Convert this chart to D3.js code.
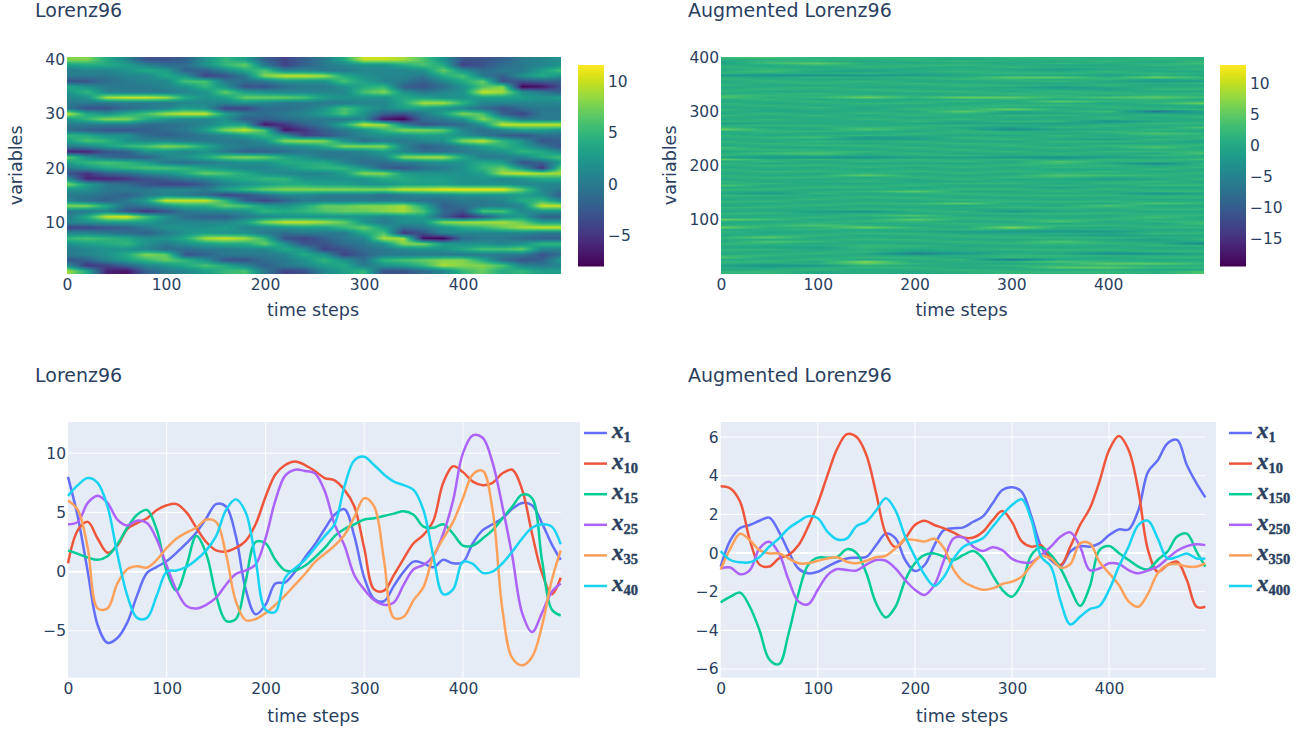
<!DOCTYPE html>
<html>
<head>
<meta charset="utf-8">
<script src="https://d3js.org/d3.v7.min.js"></script>
<style>
  body { margin: 0; background: #fff; }
  text { font-family: "DejaVu Sans", sans-serif; fill: #2a3f5f; }
</style>
</head>
<body>
<div id="chart"></div>
<script>
// time steps sampled for the line charts
const lineSteps = [0,10,20,30,40,50,60,70,80,90,100,110,120,130,140,150,160,170,180,190,200,210,220,230,240,250,260,270,280,290,300,310,320,330,340,350,360,370,380,390,400,410,420,430,440,450,460,470,480,490,499];

// Lorenz96 line values
const l96x1 = [8,4.6,0,-4.5,-6,-5.6,-4.3,-2,-0.1,0.4,0.9,1.6,2.4,3.3,4.5,5.7,5.5,3,-1.5,-3.6,-2.8,-1,-0.9,0,1.2,2.3,3.6,4.8,5.27,3,-0.5,-2.3,-2.5,-1.2,0,0.85,0.7,0.37,1,0.7,0.8,2.4,3.5,4,4.5,5.3,5.8,5.6,4.1,2.3,1];
const l96x10 = [0.7,3.5,4.2,2.8,1.6,2.2,3.6,4.1,4.5,5.2,5.6,5.7,5,3.7,2.5,1.8,1.7,2,2.6,4,6.3,8.2,9,9.3,9,8.5,7.9,7.7,6.9,5.5,2,-1.5,-1.6,-0.3,1.1,2.4,3.1,4.3,7.5,8.9,8.4,7.6,7.3,7.5,8.3,8.6,6.9,3.2,-0.1,-1.9,-0.5];
const l96x15 = [1.8,1.5,1.2,1,1.3,2.3,3.7,4.8,5.2,3.5,0,-1.6,0.5,3,1.5,-2,-4.15,-4,-0.8,2.5,2.4,1,0.1,0.1,0.5,1.2,2,3,3.6,4,4.4,4.5,4.7,4.9,5.1,4.8,3.8,3.7,4,3.2,2.2,2.2,2.8,3.5,4.5,5.5,6.5,6.2,1,-3.2,-3.7];
const l96x25 = [4,4.2,5.8,6.4,5.8,4.4,3.9,4.3,4.1,2.7,0.5,-1.6,-2.9,-3.1,-2.8,-2.2,-1.1,-0.2,0.1,0.6,2.8,6,8.1,8.6,8.5,8.3,6.8,4,2.2,-0.3,-1.5,-2.4,-2.8,-2.6,-1.1,0.2,0.56,1.3,3.2,6,10,11.5,11.3,9.2,5.5,1.3,-3.5,-5.1,-3.5,-1.7,-1];
const l96x35 = [6,5.2,2,-3.1,-3.1,-1,0.2,0.45,0.35,1,2,2.8,3.3,3.7,4.4,4.2,1.5,-2.5,-4.1,-4,-3.5,-2.8,-2,-1.1,-0.2,0.8,1.5,2.2,3.1,4.6,6.2,5.5,1,-3.9,-3.8,-2.4,-1.3,1.3,2.8,4.2,6.2,8.2,8.5,5.2,-3.2,-7.3,-7.9,-7.2,-4.6,-0.7,1.8];
const l96x40 = [6.4,7.3,7.9,7.5,5.5,1.5,-2,-3.9,-3.9,-2,0,0.1,0.4,1,1.8,3,5.2,6.1,5,1,-3.2,-3.4,-0.5,0.3,1,2,3,4,7.2,9.4,9.7,9,8.2,7.6,7.3,6.9,5.2,1.3,-1.9,-1.5,0.85,0.65,-0.1,0,0.7,1.7,2.8,3.7,4,3.8,2.3];

// Augmented Lorenz96 line values
const augx1 = [-0.7,0.67,1.3,1.45,1.67,1.83,1.1,0.07,-0.8,-1.05,-0.97,-0.7,-0.45,-0.28,-0.24,-0.2,0.4,1,0.76,-0.36,-0.93,-0.62,0.4,1.2,1.28,1.33,1.62,1.9,2.57,3.26,3.4,3.17,1.88,0.33,-0.36,-0.67,0.07,0.36,0.33,0.5,0.93,1.22,1.22,2.2,4.2,4.8,5.67,5.85,4.55,3.6,2.88];
const augx10 = [3.45,3.34,2.65,0.67,-0.6,-0.7,-0.28,-0.1,0.4,1.36,2.57,4.03,5.4,6.15,6,5.07,3.1,1,0.3,0.76,1.45,1.67,1.45,1.28,1.05,0.8,0.8,1.1,1.7,2.17,1.6,0.6,0.33,0.4,-0.28,-0.62,0.33,1.45,2.3,3.7,5.33,6.05,5.33,3.26,0.15,-0.97,-0.62,-0.45,-1.4,-2.78,-2.78];
const augx150 = [-2.55,-2.26,-2.05,-2.78,-4,-5.5,-5.75,-4.15,-2.1,-0.62,-0.24,-0.24,-0.2,0.2,0,-1.05,-2.6,-3.33,-2.78,-1.4,-0.53,-0.1,-0.02,-0.2,-0.36,-0.1,0.1,-0.28,-1.14,-1.9,-2.26,-1.57,-0.1,0.3,-0.1,-0.8,-1.83,-2.74,-1.74,0.15,0.36,0,-0.36,-0.7,-0.85,-0.36,0.07,0.85,1,0.07,-0.7];
const augx250 = [-0.8,-0.75,-1.1,-0.88,0.24,0.58,-0.02,-1.4,-2.5,-2.65,-1.9,-1.14,-0.83,-0.88,-0.9,-0.6,-0.36,-0.4,-0.8,-1.4,-1.9,-2.17,-1.65,-0.36,0.76,0.8,0.33,0.1,0.3,0.15,-0.3,-0.48,-0.48,-0.1,0.33,0.85,1.07,0.33,-0.88,-0.8,-0.53,-0.57,-0.88,-1.05,-0.9,-0.7,-0.28,0.12,0.36,0.46,0.41];
const augx350 = [-0.85,0.24,1,0.67,0.15,-0.02,-0.02,-0.28,-0.53,-0.53,-0.4,-0.28,-0.22,-0.45,-0.53,-0.4,-0.22,-0.14,0.24,0.7,0.67,0.6,0.74,0.24,-0.88,-1.48,-1.74,-1.9,-1.83,-1.6,-1.48,-1.22,-0.62,-0.15,-0.28,-0.75,-0.57,0.5,0.5,-0.45,-1.05,-1.65,-2.5,-2.78,-2.1,-1.05,-0.62,-0.57,-0.7,-0.7,-0.53];
const augx400 = [0.1,-0.36,-0.48,-0.48,-0.2,0.33,0.76,1.28,1.62,1.9,1.8,1.1,0.7,0.76,1.4,1.62,2.2,2.83,2.2,0.85,-0.2,-1.14,-1.7,-1.22,-0.28,0.33,0.55,0.76,1.36,1.97,2.48,2.78,1.7,-0.2,-0.7,-2.5,-3.7,-3.3,-2.9,-2.74,-1.9,-0.7,0.33,1.45,1.67,0.76,-0.28,-0.2,-0.02,-0.28,-0.28];

const l96Names = ["1", "10", "15", "25", "35", "40"];
const augNames = ["1", "10", "150", "250", "350", "400"];
const lineColors = ["#636efa", "#ef553b", "#00cc96", "#ab63fa", "#ffa15a", "#19d3f3"];

// heatmap grid, Lorenz96: one row per variable, from 40 down to 1
const l96HeatSteps = [0,20,40,60,80,100,120,140,160,180,200,220,240,260,280,300,320,340,360,380,400,420,440,460,480,500];
const l96HeatVars = [40,39,38,37,36,35,34,33,32,31,30,29,28,27,26,25,24,23,22,21,20,19,18,17,16,15,14,13,12,11,10,9,8,7,6,5,4,3,2,1];
const l96Heat = [
  [8,8,4,1,-3,-3,-2,2,5,3,-2,-4,-2,0,4,10,10,9,6,2,-3,-3,-2,0,1,2],
  [3,4,4,3,1,-1,-1,2,5,7,0,-4,-2,0,1,2,2,4,6,4,-4,-3,-1,0,1,2],
  [0,1,1,2,4,3,-2,-2,1,4,6,1,1,0,0,1,1,1,2,7,2,-1,0,0,3,6],
  [0,0,0,1,1,4,2,-4,-3,0,8,10,10,9,4,2,1,1,0,4,6,0,-2,2,4,2],
  [-3,-3,-1,0,1,1,6,6,0,-1,0,2,2,2,6,3,1,0,-2,1,4,7,-3,-3,-2,-2],
  [4,2,0,0,0,1,2,5,2,-3,-3,-1,0,0,2,4,5,-2,-3,-1,2,6,8,-8,-7,-3],
  [2,5,1,0,0,0,1,2,7,3,2,1,1,1,1,6,8,2,0,1,2,10,9,2,0,-2],
  [1,2,9,10,10,9,4,2,3,7,7,7,6,3,2,2,2,4,3,2,2,3,3,3,2,3],
  [0,0,0,0,0,0,1,1,1,2,1,0,0,0,0,1,1,4,9,9,5,1,1,1,1,1],
  [0,-3,-3,-1,0,1,3,2,-4,-4,-1,-1,0,2,6,3,1,3,3,2,1,-1,-3,-1,0,0],
  [10,4,2,4,6,9,10,10,3,0,-1,0,1,3,6,2,-2,-3,0,3,8,6,-2,-4,0,0],
  [2,5,8,8,4,2,1,1,2,-2,-2,-1,0,0,0,1,-7,-8,-1,0,2,8,4,0,0,0],
  [0,0,0,0,-1,-1,0,1,3,3,-7,-5,-2,0,4,10,9,1,-3,-2,-1,2,10,10,10,10],
  [-1,-2,-3,-3,-2,-1,0,3,8,10,6,-7,-5,-2,0,2,5,8,8,7,1,-1,1,3,3,2],
  [5,4,2,2,-1,-2,-1,0,1,3,5,2,-4,-3,-1,1,2,2,3,3,2,0,-2,-3,-1,-1],
  [3,6,5,2,1,1,0,0,0,0,2,8,9,8,2,-1,0,0,1,2,8,10,5,2,-3,-2],
  [0,1,3,5,6,8,7,4,1,0,0,1,2,4,8,8,8,1,-2,-1,1,3,5,3,0,-3],
  [-6,-6,-3,-2,2,2,1,2,0,-2,-2,-1,0,0,0,1,3,1,-1,-1,0,1,2,5,4,1],
  [7,2,-1,-2,-2,1,2,4,7,8,7,4,2,0,0,0,1,8,9,9,4,0,0,1,4,6],
  [3,5,6,5,3,0,-1,0,1,2,2,4,4,4,1,-1,-1,0,1,2,2,4,3,-3,-2,3],
  [0,2,4,5,6,6,5,3,2,1,1,2,4,5,5,2,-2,-3,-1,0,2,5,7,2,-5,7],
  [-3,-5,-2,-1,1,2,4,7,6,4,2,1,1,1,3,8,8,3,2,2,2,3,9,10,9,9],
  [2,-6,-6,-5,-3,-2,0,1,3,4,5,5,2,2,2,2,4,4,3,3,2,2,1,2,4,4],
  [8,3,0,-1,-3,-4,-4,-2,1,2,3,4,4,3,3,2,2,3,3,3,2,2,2,1,1,1],
  [2,2,0,0,0,1,1,0,3,5,7,8,8,8,8,8,8,10,10,11,11,11,11,7,1,0],
  [0,0,-1,-2,0,1,0,-1,-4,-3,-1,1,1,0,0,0,-1,0,1,1,2,2,2,3,2,-3],
  [1,-1,-2,0,3,10,10,10,5,-2,-4,-2,0,0,0,0,0,0,-1,-1,0,0,1,4,5,1],
  [8,8,4,-1,0,2,4,4,7,6,3,2,4,7,7,8,8,9,4,-2,-1,0,0,1,10,10],
  [0,0,1,-3,-5,-3,0,1,1,2,5,4,5,6,7,7,8,9,6,-1,-3,6,6,1,2,2],
  [0,4,10,11,6,2,-1,-2,-2,0,1,2,2,2,2,2,1,2,3,-2,-6,-3,1,3,-2,-2],
  [1,2,3,3,3,1,1,1,1,3,8,10,10,9,7,2,0,2,2,8,9,9,9,7,3,3],
  [-4,-4,-3,-2,0,2,2,2,3,1,1,2,3,3,5,7,3,-1,0,2,4,5,7,9,10,10],
  [1,1,0,-1,-2,0,2,3,2,2,0,-1,0,0,0,4,6,-5,-3,1,1,1,1,1,0,0],
  [5,6,5,4,2,2,4,9,10,9,5,-3,-4,-2,0,1,9,9,-7,-8,-1,0,0,-1,-2,-2],
  [2,3,4,5,2,0,2,3,4,4,7,2,-3,-3,-1,0,2,8,8,3,2,2,1,2,5,5],
  [0,1,2,2,1,-1,-1,0,0,1,1,4,2,-4,-3,-1,0,1,2,2,4,6,6,7,1,1],
  [0,1,2,4,8,7,-3,-2,0,0,0,1,4,2,-4,-2,0,0,0,0,0,0,0,0,-3,-1],
  [-3,-2,1,3,5,7,5,2,-3,-3,-1,0,2,5,2,-1,5,6,7,8,8,4,-1,-3,-2,3],
  [2,-5,-4,-2,1,2,4,6,4,1,-2,0,1,3,4,0,2,3,5,9,8,8,6,1,0,1],
  [9,4,-6,-7,-2,0,1,3,5,6,0,-4,-3,1,3,5,-3,-3,-1,1,5,7,4,5,3,3]
];

// heatmap grid, Augmented Lorenz96: read in bands about 3.7 variables tall, top band first
const augHeatSteps = [0,50,100,150,200,250,300,350,400,450,500];
const augHeatVars = [400,396.3,392.6,388.9,385.2,381.5,377.8,374.1,370.4,366.7,363,359.3,355.6,351.9,348.2,344.5,340.8,337.1,333.4,329.7,326,322.3,318.6,314.9,311.2,307.5,303.8,300.1,296.4,292.7,289,285.3,281.6,277.9,274.2,270.5,266.8,263.1,259.4,255.7,252,248.3,244.6,240.9,237.2,233.5,229.8,226.1,222.4,218.7,215,211.3,207.6,203.9,200.2,196.5,192.8,189.1,185.4,181.7,178,174.3,170.6,166.9,163.2,159.5,155.8,152.1,148.4,144.7,141,137.3,133.6,129.9,126.2,122.5,118.8,115.1,111.4,107.7,104,100.3,96.6,92.9,89.2,85.5,81.8,78.1,74.4,70.7,67,63.3,59.6,55.9,52.2,48.5,44.8,41.1,37.4,33.7,30,26.3,22.6,18.9,15.2,11.5,7.8,4.1];
const augHeat = [
  [3,4,1,2,1,1,2,1,1,1,1],
  [1,1,2,1,2,0,1,2,1,2,1],
  [0,2,1,0,1,2,1,0,2,0,2],
  [-1,3,5,1,0,1,0,2,1,1,3],
  [1,0,2,1,2,2,1,0,0,2,1],
  [2,1,0,2,1,0,2,1,1,0,1],
  [0,2,1,0,0,1,0,-1,0,1,2],
  [1,3,0,-1,1,2,1,0,2,0,0],
  [2,1,1,2,0,1,2,2,1,2,1],
  [-2,-3,-3,-2,-2,0,0,0,-1,1,0],
  [1,0,2,1,2,1,5,5,1,6,2],
  [2,1,0,0,1,2,2,1,2,0,1],
  [0,2,1,2,0,0,1,2,0,-2,-1],
  [1,1,2,1,2,1,0,0,1,1,2],
  [2,0,0,1,1,2,2,1,2,0,0],
  [0,1,2,0,0,1,0,-2,0,1,1],
  [1,2,1,2,1,0,1,0,-1,2,2],
  [2,0,0,1,2,2,0,2,1,0,0],
  [0,1,2,0,0,1,2,1,2,1,2],
  [3,2,1,2,1,0,1,2,0,2,1],
  [4,1,2,6,2,6,5,2,4,5,3],
  [1,2,0,1,0,1,2,0,1,2,0],
  [0,1,2,0,1,2,0,5,2,1,2],
  [2,0,1,2,2,0,1,1,0,2,6],
  [1,2,0,1,0,1,2,2,1,0,1],
  [0,1,2,0,1,2,1,0,2,1,0],
  [2,0,1,0,2,1,6,1,0,2,2],
  [1,0,0,1,0,5,0,1,3,-7,0],
  [0,2,0,2,1,2,-1,0,1,-1,-1],
  [2,1,2,0,2,0,2,2,0,2,1],
  [1,0,1,1,0,1,1,0,2,0,2],
  [0,2,0,2,1,2,0,1,1,1,0],
  [2,1,1,0,2,0,2,2,-3,0,1],
  [-1,0,0,1,0,-1,0,-1,0,2,2],
  [1,2,2,0,1,2,1,0,2,1,0],
  [2,0,1,2,2,0,-1,2,1,0,4],
  [6,1,0,4,1,1,-4,0,0,2,1],
  [1,2,2,1,0,2,1,1,2,1,0],
  [0,1,0,0,2,1,2,0,1,4,2],
  [2,0,1,2,1,0,0,2,0,2,1],
  [1,2,3,-2,-1,2,1,1,1,0,2],
  [0,1,0,-1,-1,1,2,0,-1,2,1],
  [2,0,2,1,2,0,0,2,2,1,-1],
  [1,2,1,0,1,2,1,1,0,0,1],
  [0,1,2,2,0,1,2,0,2,2,2],
  [3,0,0,1,2,0,1,2,1,4,0],
  [2,2,1,0,1,2,0,1,0,1,1],
  [0,1,2,2,0,1,2,0,2,2,2],
  [1,3,4,1,2,0,1,2,1,0,4],
  [2,0,1,0,1,2,0,1,0,2,1],
  [-1,-2,-3,-3,-1,-1,-2,-3,-1,0,1],
  [5,1,2,1,2,1,2,0,2,1,3],
  [0,2,0,2,1,2,0,4,1,2,0],
  [2,0,1,0,0,0,1,3,0,-4,2],
  [1,2,2,1,2,1,2,1,2,0,1],
  [0,1,0,2,0,2,0,2,1,1,2],
  [2,0,1,0,1,0,1,0,0,2,0],
  [1,2,2,1,2,1,2,1,2,0,1],
  [0,1,0,2,0,2,0,2,1,1,2],
  [2,0,1,5,1,0,1,4,3,2,0],
  [1,2,2,0,2,1,2,2,0,1,1],
  [0,1,0,1,0,2,0,0,-1,0,2],
  [2,0,1,2,0,0,1,1,1,2,0],
  [1,2,0,0,1,2,2,0,2,1,1],
  [4,0,1,1,2,0,0,2,0,2,2],
  [0,1,2,2,0,1,1,-1,1,0,0],
  [2,2,0,0,1,2,2,1,2,1,1],
  [1,0,1,2,5,0,0,2,0,2,2],
  [0,-2,2,0,1,2,1,0,1,-3,0],
  [2,2,0,1,0,1,2,2,2,1,1],
  [1,0,1,2,2,0,0,1,0,2,2],
  [0,1,2,0,1,2,1,0,1,0,0],
  [2,2,0,1,0,1,2,2,2,1,1],
  [1,0,1,2,2,5,0,1,0,4,2],
  [0,1,2,0,1,0,1,0,4,0,0],
  [2,2,0,1,0,1,2,2,2,1,1],
  [1,0,1,2,2,0,0,1,0,2,2],
  [0,1,-1,-3,1,2,-2,0,1,0,0],
  [2,2,0,1,0,1,2,2,2,1,1],
  [1,0,1,2,4,0,0,1,0,2,2],
  [0,1,2,0,1,2,1,0,1,3,0],
  [6,3,0,1,5,1,2,2,2,1,1],
  [1,0,1,2,2,0,0,4,0,2,2],
  [0,1,2,0,1,2,1,0,1,0,3],
  [2,2,4,2,0,1,2,2,2,1,1],
  [6,1,1,6,2,0,7,1,0,2,2],
  [0,1,2,0,1,2,1,0,1,0,0],
  [2,0,0,1,0,-1,-2,-2,-2,1,1],
  [1,0,1,2,2,0,0,1,0,2,2],
  [0,2,2,0,1,2,1,0,-1,0,0],
  [2,5,0,1,0,1,2,2,2,1,1],
  [1,0,1,2,2,0,0,1,0,-1,2],
  [0,4,2,0,1,2,1,4,1,0,0],
  [2,2,0,1,0,1,2,2,2,1,-5],
  [1,0,1,2,2,0,0,1,0,2,2],
  [0,0,-1,2,1,1,1,0,1,0,0],
  [2,2,0,1,0,1,2,2,2,1,1],
  [1,0,1,2,-1,0,0,1,0,2,2],
  [0,1,2,0,-6,-2,1,0,-4,-3,0],
  [2,2,0,1,0,1,2,2,2,1,1],
  [4,0,1,2,2,0,2,1,0,2,2],
  [0,1,2,0,1,2,-6,0,1,0,0],
  [2,2,0,7,0,1,2,4,2,1,1],
  [1,0,1,5,2,0,0,1,5,5,2],
  [-1,-3,-2,1,0,1,2,2,2,1,1],
  [1,0,1,2,2,0,0,5,5,2,2],
  [0,1,2,0,1,2,1,0,1,0,0],
  [2,2,0,1,0,1,2,2,2,1,4]
];

const width = 1303;
const height = 730;
const svg = d3.select("#chart").append("svg")
    .attr("width", width)
    .attr("height", height)
    .style("display", "block");

const setText = (sel) => sel.style("font-size", "15.5px");

const addAxes = (g, xScale, yScale, xTicks, yTicks, bottom, left, yFormat) => {
  const xAxis = g.append("g")
      .attr("transform", `translate(0, ${bottom + 2})`)
      .call(d3.axisBottom(xScale).tickValues(xTicks).tickSize(0));
  xAxis.select(".domain").remove();
  xAxis.selectAll("text").call(setText);

  const yAxis = g.append("g")
      .attr("transform", `translate(${left + 1}, 0)`)
      .call(d3.axisLeft(yScale).tickValues(yTicks).tickSize(0).tickFormat(yFormat));
  yAxis.select(".domain").remove();
  yAxis.selectAll("text").call(setText);
};

const minusFormat = d => String(d).replace("-", "\u2212");

// grid value at a time step and variable, blended between the four nearest grid cells
const sampleGrid = (grid, steps, vars, t, v) => {
  const tFind = d3.scaleLinear().domain(steps).range(d3.range(steps.length)).clamp(true);
  const vFind = d3.scaleLinear().domain(vars).range(d3.range(vars.length)).clamp(true);
  const i = tFind(t), j = vFind(v);
  const i0 = Math.floor(i), j0 = Math.floor(j);
  const i1 = Math.min(i0 + 1, steps.length - 1), j1 = Math.min(j0 + 1, vars.length - 1);
  const top = grid[j0][i0] + (grid[j0][i1] - grid[j0][i0]) * (i - i0);
  const low = grid[j1][i0] + (grid[j1][i1] - grid[j1][i0]) * (i - i0);
  return top + (low - top) * (j - j0);
};

const drawHeatmap = (opt) => {
  const g = svg.append("g");
  const x = d3.scaleLinear().domain([0, 499]).range([opt.left, opt.right]);
  const y = d3.scaleLinear().domain(opt.varDomain).range([opt.bottom, opt.top]);
  const color = d3.scaleSequential(d3.interpolateViridis).domain(opt.zRange);

  // paint the smoothed heatmap pixel by pixel into a canvas
  const w = Math.round(opt.right - opt.left);
  const h = Math.round(opt.bottom - opt.top);
  const canvas = document.createElement("canvas");
  canvas.width = w;
  canvas.height = h;
  const ctx = canvas.getContext("2d");
  for (let py = 0; py < h; py++) {
    for (let px = 0; px < w; px++) {
      const val = sampleGrid(opt.grid, opt.steps, opt.vars, x.invert(opt.left + px + 0.5), y.invert(opt.top + py + 0.5));
      ctx.fillStyle = color(val);
      ctx.fillRect(px, py, 1, 1);
    }
  }
  g.append("image")
      .attr("x", opt.left)
      .attr("y", opt.top)
      .attr("width", w)
      .attr("height", h)
      .attr("preserveAspectRatio", "none")
      .attr("href", canvas.toDataURL());

  addAxes(g, x, y, [0, 100, 200, 300, 400], opt.yTicks, opt.bottom, opt.left, minusFormat);

  // colorbar
  const cbY = d3.scaleLinear().domain(opt.zRange).range([266, 65]);
  const cb = g.append("g");
  cb.selectAll("rect")
    .data(d3.range(65, 266))
    .join("rect")
      .attr("x", opt.cbLeft)
      .attr("y", d => d)
      .attr("width", 26)
      .attr("height", 1.5)
      .attr("fill", d => color(cbY.invert(d + 0.5)));
  const cbAxis = g.append("g")
      .attr("transform", `translate(${opt.cbLeft + 26 + 1}, 0)`)
      .call(d3.axisRight(cbY).tickValues(opt.cbTicks).tickSize(0).tickFormat(minusFormat));
  cbAxis.select(".domain").remove();
  cbAxis.selectAll("text").call(setText);

  g.append("text")
      .attr("x", (opt.left + opt.right) / 2 - 1)
      .attr("y", 316)
      .attr("text-anchor", "middle")
      .style("font-size", "17.5px")
      .text("time steps");
  g.append("text")
      .attr("transform", `translate(${opt.left - 45}, ${(opt.top + opt.bottom) / 2}) rotate(-90)`)
      .attr("text-anchor", "middle")
      .style("font-size", "17.5px")
      .text("variables");
  g.append("text")
      .attr("x", opt.titleX)
      .attr("y", 17)
      .style("font-size", "19px")
      .text(opt.title);
};

const drawLines = (opt) => {
  const g = svg.append("g");
  const top = 422, bottom = 677.7;
  const x = d3.scaleLinear().domain([0, 499]).range([opt.left, opt.lineEnd]);
  const y = d3.scaleLinear().domain(opt.yDomain).range([bottom, top]);

  g.append("rect")
      .attr("x", opt.left)
      .attr("y", top)
      .attr("width", opt.bgRight - opt.left)
      .attr("height", bottom - top)
      .attr("fill", "#e5ecf6");

  // grid
  g.selectAll(".vgrid")
    .data([100, 200, 300, 400])
    .join("line")
      .attr("class", "vgrid")
      .attr("x1", d => x(d)).attr("x2", d => x(d))
      .attr("y1", top).attr("y2", bottom)
      .attr("stroke", "#fff");
  g.selectAll(".hgrid")
    .data(opt.yTicks)
    .join("line")
      .attr("class", "hgrid")
      .attr("x1", opt.left).attr("x2", opt.lineEnd)
      .attr("y1", d => y(d)).attr("y2", d => y(d))
      .attr("stroke", "#fff")
      .attr("stroke-width", d => d === 0 ? 2 : 1);

  addAxes(g, x, y, [0, 100, 200, 300, 400], opt.yTicks, bottom, opt.left, minusFormat);

  const line = d3.line()
      .x((d, i) => x(lineSteps[i]))
      .y(d => y(d))
      .curve(d3.curveCatmullRom.alpha(0.5));

  g.selectAll(".series")
    .data(opt.series)
    .join("path")
      .attr("class", "series")
      .attr("fill", "none")
      .attr("stroke", (d, i) => lineColors[i])
      .attr("stroke-width", 2.5)
      .attr("d", line);

  // legend
  const legend = g.selectAll(".legend")
    .data(opt.names)
    .join("g")
      .attr("class", "legend")
      .attr("transform", (d, i) => `translate(${opt.legendX}, ${433 + i * 30.6})`);
  legend.append("line")
      .attr("x2", 23)
      .attr("stroke", (d, i) => lineColors[i])
      .attr("stroke-width", 2.5);
  const label = legend.append("text")
      .attr("x", 28)
      .attr("y", 5)
      .style("font-family", "'Liberation Serif', serif")
      .style("font-weight", 700)
      .style("stroke", "#2a3f5f")
      .style("stroke-width", 0.4);
  label.append("tspan")
      .style("font-size", "23px")
      .style("font-style", "italic")
      .text("x");
  label.append("tspan")
      .attr("dy", 4)
      .style("font-size", "14.5px")
      .text(d => d);

  g.append("text")
      .attr("x", (opt.left + opt.lineEnd) / 2 - 1)
      .attr("y", 722)
      .attr("text-anchor", "middle")
      .style("font-size", "17.5px")
      .text("time steps");
  g.append("text")
      .attr("x", opt.titleX)
      .attr("y", 382)
      .style("font-size", "19px")
      .text(opt.title);
};

drawHeatmap({
  title: "Lorenz96", titleX: 35,
  left: 67, right: 561, top: 57, bottom: 273.7,
  varDomain: [0.5, 40.5],
  grid: l96Heat, steps: l96HeatSteps, vars: l96HeatVars,
  zRange: [-7.95, 11.6], yTicks: [10, 20, 30, 40],
  cbLeft: 578, cbTicks: [-5, 0, 5, 10]
});
drawHeatmap({
  title: "Augmented Lorenz96", titleX: 688,
  left: 721, right: 1204, top: 57, bottom: 273.7,
  varDomain: [0.5, 400.5],
  grid: augHeat, steps: augHeatSteps, vars: augHeatVars,
  zRange: [-19.4, 12.94], yTicks: [100, 200, 300, 400],
  cbLeft: 1220, cbTicks: [-15, -10, -5, 0, 5, 10]
});
drawLines({
  title: "Lorenz96", titleX: 35,
  left: 68, lineEnd: 560.7, bgRight: 580,
  yDomain: [-8.95, 12.63], yTicks: [-5, 0, 5, 10],
  series: [l96x1, l96x10, l96x15, l96x25, l96x35, l96x40],
  names: l96Names, legendX: 584
});
drawLines({
  title: "Augmented Lorenz96", titleX: 688,
  left: 720.7, lineEnd: 1205.3, bgRight: 1216,
  yDomain: [-6.45, 6.78], yTicks: [-6, -4, -2, 0, 2, 4, 6],
  series: [augx1, augx10, augx150, augx250, augx350, augx400],
  names: augNames, legendX: 1229
});
</script>
</body>
</html>
